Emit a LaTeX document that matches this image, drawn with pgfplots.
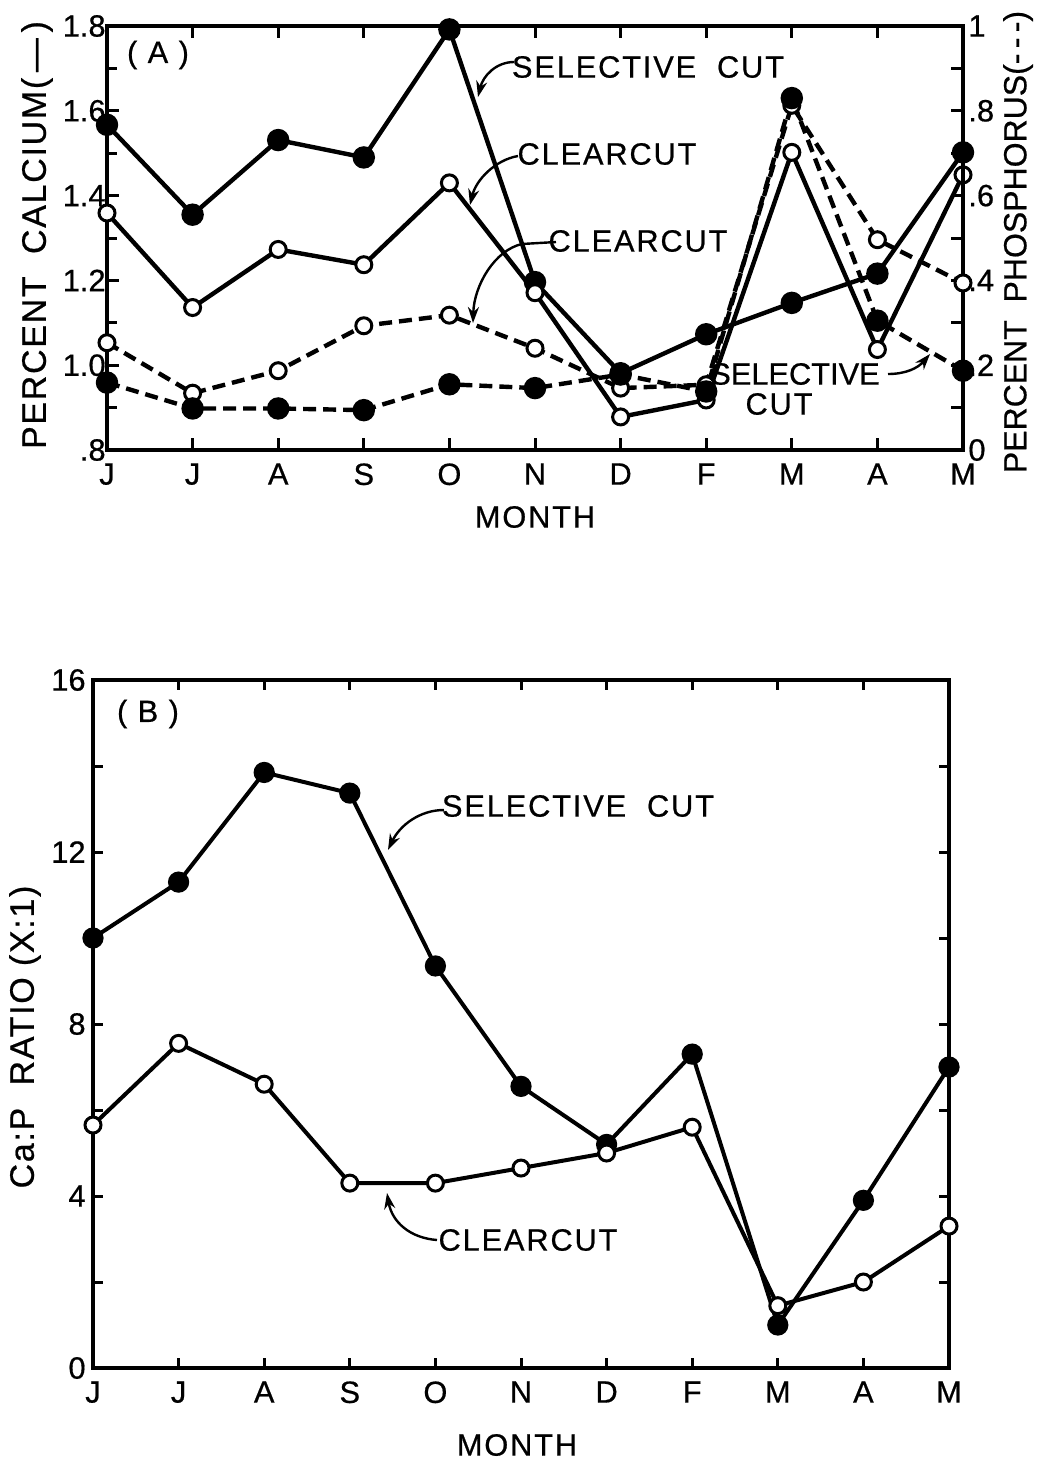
\documentclass[border=0pt]{standalone}
\usepackage{fontspec}
\setmainfont{Liberation Sans}
\newfontfamily\lsfont[LetterSpace=6,FakeBold=0.6]{Liberation Sans}
\newfontfamily\ylfont[LetterSpace=5,FakeBold=0.6]{Liberation Sans}
\newfontfamily\tkfont[FakeBold=0.6]{Liberation Sans}
\usepackage{pgfplots}
\pgfplotsset{compat=1.18}
\usetikzlibrary{arrows.meta}
\newcommand\lab{\lsfont\fontsize{15.4}{18}\selectfont}
\newcommand\ylab{\ylfont\fontsize{17}{20}\selectfont}
\newcommand\ylabr{\tkfont\fontsize{16}{19}\selectfont}
\pgfplotsset{
  base/.style={
    scale only axis, width=428pt, xmin=0, xmax=10,
    xtick={0,...,10}, xticklabels={J,J,A,S,O,N,D,F,M,A,M},
    tick align=inside, major tick length=5pt, minor tick length=5pt,
    axis line style={line width=1.8pt},
    every tick/.style={line width=1.5pt, black},
    tick label style={font=\tkfont\fontsize{15.4}{18}\selectfont, inner sep=1.5pt},
    /pgf/number format/assume math mode=true,
    clip=false,
  },
  solidS/.style={black, line width=2.2pt, mark=*, mark size=4.5pt, mark options={solid, fill=black}},
  solidC/.style={black, line width=2.2pt, mark=*, mark size=4pt, mark options={solid, fill=white, line width=1.5pt}},
  dashS/.style={black, line width=2.2pt, dash pattern=on 6.5pt off 3.5pt, mark=*, mark size=4.5pt, mark options={solid, fill=black}},
  dashC/.style={black, line width=2.2pt, dash pattern=on 6.5pt off 3.5pt, mark=*, mark size=4pt, mark options={solid, fill=white, line width=1.5pt}},
}
\begin{document}
\begin{tikzpicture}
\useasboundingbox (0,0) rectangle (520.5pt,-731pt);
% ---------- Panel A, calcium (left axis)
\begin{axis}[base, at={(53.5pt,-225pt)}, anchor=south west, height=212pt,
  ymin=0.8, ymax=1.8,
  ytick={0.8,1.0,1.2,1.4,1.6,1.8}, yticklabels={.8,1.0,1.2,1.4,1.6,1.8},
  minor ytick={0.9,1.1,1.3,1.5,1.7},
  xtick pos=both, ytick pos=left, major tick length=6pt,
  yticklabel style={xshift=1pt}, xticklabel style={yshift=-5pt}]
\addplot[solidS] table {
0 1.567
1 1.355
2 1.531
3 1.490
4 1.792
5 1.196
6 0.981
7 1.073
8 1.147
9 1.216
10 1.502
};
\addplot[solidC] table {
0 1.359
1 1.136
2 1.273
3 1.237
4 1.430
5 1.171
6 0.878
7 0.918
8 1.502
9 1.037
10 1.449
};
\end{axis}
% ---------- Panel A, phosphorus (right axis)
\begin{axis}[base, at={(53.5pt,-225pt)}, anchor=south west, height=212pt,
  ymin=0, ymax=1, hide x axis, axis y line*=right,
  ytick={0,0.2,0.4,0.6,0.8,1}, yticklabels={0,.2,.4,.6,.8,1},
  minor ytick={0.1,0.3,0.5,0.7,0.9}, major tick length=6pt, minor tick length=6pt,
  yticklabel style={xshift=1pt}]
\addplot[dashC] table {
0 0.253
1 0.134
2 0.187
3 0.293
4 0.318
5 0.240
6 0.146
7 0.154
8 0.813
9 0.496
10 0.394
};
\addplot[dashS] table {
0 0.159
1 0.098
2 0.098
3 0.094
4 0.155
5 0.146
6 0.178
7 0.138
8 0.830
9 0.305
10 0.187
};
\end{axis}
% ---------- Panel B
\begin{axis}[base, at={(46.5pt,-684pt)}, anchor=south west, height=344pt,
  ymin=0, ymax=16,
  ytick={0,2,...,16}, yticklabels={0,,4,,8,,12,,16},
  tick pos=both, xticklabel pos=bottom, yticklabel pos=left,
  yticklabel style={xshift=-2pt}, xticklabel style={yshift=-5pt}]
\addplot[solidS, line width=2pt, mark size=4.3pt] table {
0 10.0
1 11.3
2 13.85
3 13.37
4 9.35
5 6.55
6 5.2
7 7.3
8 1.0
9 3.9
10 7.0
};
\addplot[solidC, line width=2pt] table {
0 5.65
1 7.55
2 6.6
3 4.3
4 4.3
5 4.65
6 5.0
7 5.6
8 1.45
9 2.0
10 3.3
};
\end{axis}
% ---------- texts and arrows (coordinates in reference pixels)
\begin{scope}[x=0.5pt, y=-0.5pt]
\node[font=\ylab, rotate=90] at (37,235) {PERCENT\ \ CALCIUM(\,—\,)};
\node[font=\ylabr, rotate=90] at (1018,242) {PERCENT\ \ PHOSPHORUS(-\,-\,-)};
\node[font=\lab] at (535,517) {MONTH};
\node[font=\lab] at (158,55) {( A )};
\node[font=\lab] at (648,67) {SELECTIVE\ \ CUT};
\node[font=\lab] at (607,154) {CLEARCUT};
\node[font=\lab] at (638,241) {CLEARCUT};
\node[font=\tkfont\fontsize{15.4}{18}\selectfont] at (795,374) {SELECTIVE};
\node[font=\lab] at (779,404) {CUT};
\draw[line width=1.2pt, -{Stealth[length=8pt,width=5.5pt]}] (514,62) .. controls (496,62) and (483,76) .. (478,97);
\draw[line width=1.2pt, -{Stealth[length=8pt,width=5.5pt]}] (518,156) .. controls (495,160) and (476,180) .. (470,205);
\draw[line width=1.2pt, -{Stealth[length=8pt,width=5.5pt]}] (556,242) -- (522,244) .. controls (495,250) and (474,285) .. (473,323);
\draw[line width=1.2pt, -{Stealth[length=8pt,width=5.5pt]}] (888,374) .. controls (906,374) and (918,368) .. (930,354);
% panel B
\node[font=\ylab, rotate=90] at (25,1037) {Ca:P\ \ RATIO\ (X:1)};
\node[font=\lab] at (517,1445) {MONTH};
\node[font=\lab] at (148,714) {( B )};
\node[font=\lab] at (578,806) {SELECTIVE\ \ CUT};
\node[font=\lab] at (528,1240) {CLEARCUT};
\draw[line width=1.2pt, -{Stealth[length=8pt,width=5.5pt]}] (444,810) .. controls (420,810) and (400,825) .. (388,850);
\draw[line width=1.2pt, -{Stealth[length=8pt,width=5.5pt]}] (437,1240) .. controls (410,1238) and (392,1222) .. (387,1193);
\end{scope}
\end{tikzpicture}
\end{document}
